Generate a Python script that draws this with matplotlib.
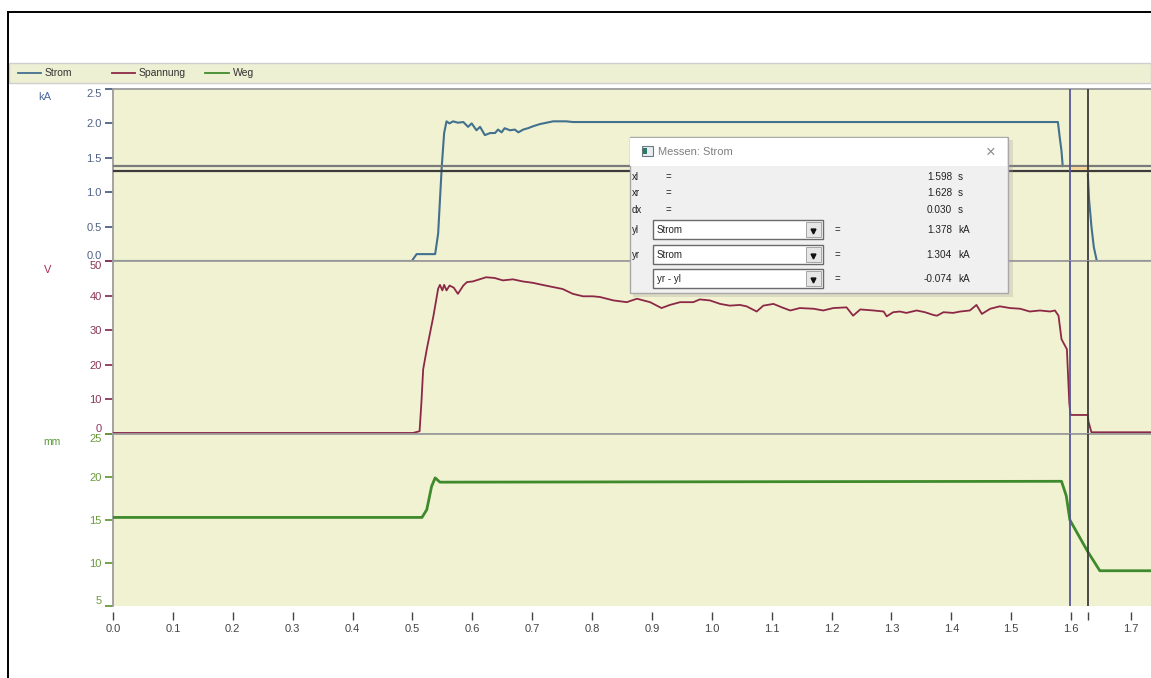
import matplotlib
matplotlib.use('Agg')
import matplotlib.pyplot as plt
from matplotlib.patches import Rectangle
import numpy as np

# ---------------- data ----------------
t_strom = [0.0, 0.499, 0.507, 0.538, 0.543, 0.549, 0.553, 0.557, 0.562, 0.568, 0.576, 0.585,
           0.593, 0.599, 0.607, 0.613, 0.621, 0.630, 0.638, 0.643, 0.649, 0.654, 0.663, 0.671,
           0.677, 0.685, 0.693, 0.702, 0.713, 0.724, 0.735, 0.757, 0.768, 1.578, 1.581, 1.584,
           1.586, np.nan, 1.628, 1.630, 1.634, 1.638, 1.643, 1.74]
strom = [0.0, 0.0, 0.10, 0.10, 0.40, 1.37, 1.86, 2.03, 2.00, 2.03, 2.01, 2.02,
         1.95, 2.00, 1.90, 1.95, 1.83, 1.86, 1.86, 1.91, 1.87, 1.93, 1.90, 1.91,
         1.87, 1.91, 1.93, 1.96, 1.99, 2.01, 2.03, 2.03, 2.02, 2.02, 1.80, 1.60,
         1.38, np.nan, 1.25, 0.90, 0.50, 0.20, 0.0, 0.0]

t_spannung = [0.0, 0.501, 0.512, 0.515, 0.518, 0.524, 0.535, 0.543, 0.546, 0.550, 0.553, 0.557,
              0.562, 0.569, 0.576, 0.585, 0.591, 0.601, 0.612, 0.623, 0.637, 0.651, 0.668, 0.684,
              0.701, 0.717, 0.734, 0.751, 0.768, 0.785, 0.801, 0.813, 0.836, 0.858, 0.875, 0.897,
              0.916, 0.930, 0.947, 0.969, 0.980, 0.997, 1.014, 1.030, 1.047, 1.058, 1.075, 1.086,
              1.103, 1.117, 1.131, 1.147, 1.170, 1.186, 1.203, 1.225, 1.236, 1.248, 1.270, 1.287,
              1.292, 1.303, 1.314, 1.325, 1.342, 1.356, 1.370, 1.376, 1.387, 1.403, 1.415, 1.431,
              1.442, 1.451, 1.465, 1.481, 1.498, 1.515, 1.531, 1.548, 1.565, 1.573, 1.579,
              1.584, 1.593, 1.597, 1.599, 1.628, 1.629, 1.634, 1.74]
spannung = [0.3, 0.3, 0.8, 9.0, 18.7, 24.5, 34.0, 42.0, 43.1, 41.5, 43.1, 41.5,
            42.9, 42.3, 40.5, 42.9, 43.9, 44.1, 44.7, 45.3, 45.1, 44.4, 44.7, 44.1,
            43.7, 43.1, 42.5, 41.9, 40.5, 39.8, 39.8, 39.6, 38.6, 38.1, 39.1, 38.1,
            36.4, 37.3, 38.1, 38.1, 38.9, 38.6, 37.6, 37.1, 37.3, 36.9, 35.4, 37.1,
            37.6, 36.6, 35.7, 36.4, 36.2, 35.7, 36.4, 36.6, 34.2, 36.0, 35.7, 35.4,
            34.0, 35.2, 35.4, 35.0, 35.7, 35.2, 34.4, 34.2, 35.2, 35.0, 35.4, 35.7,
            37.3, 34.7, 36.2, 36.9, 36.4, 36.2, 35.4, 35.7, 35.4, 35.7, 34.2,
            27.4, 24.5, 9.0, 5.5, 5.5, 3.6, 0.5, 0.5]

t_weg = [0.0, 0.516, 0.524, 0.532, 0.538, 0.546, 1.584, 1.592, 1.598, 1.628, 1.648, 1.74]
weg = [15.3, 15.3, 16.2, 18.9, 19.9, 19.4, 19.5, 17.8, 15.0, 11.3, 9.1, 9.1]

# cursor values (from the measurement box)
xl, xr = 1.598, 1.628
yl, yr = 1.378, 1.304

x_ticks = [0.0, 0.1, 0.2, 0.3, 0.4, 0.5, 0.6, 0.7, 0.8, 0.9, 1.0, 1.1, 1.2, 1.3, 1.4, 1.5, 1.6, 1.7]
x_ticklabels = ['0.0', '0.1', '0.2', '0.3', '0.4', '0.5', '0.6', '0.7', '0.8', '0.9',
                '1.0', '1.1', '1.2', '1.3', '1.4', '1.5', '1.6', '1.7']
strom_ticks = [0.0, 0.5, 1.0, 1.5, 2.0, 2.5]
strom_ticklabels = ['0.0', '0.5', '1.0', '1.5', '2.0', '2.5']
spannung_ticks = [0, 10, 20, 30, 40, 50]
spannung_ticklabels = ['0', '10', '20', '30', '40', '50']
weg_ticks = [5, 10, 15, 20, 25]
weg_ticklabels = ['5', '10', '15', '20', '25']

# ---------------- style ----------------
C_STROM = '#42708f'
C_SPANNUNG = '#8c2846'
C_WEG = '#3f8a2c'
C_BG = '#f1f2d2'
C_SEP = '#9c9c9c'
FONT = ['Liberation Sans', 'DejaVu Sans']
NARROW = ['Liberation Sans Narrow', 'Liberation Sans', 'DejaVu Sans']
plt.rcParams['font.family'] = FONT

W, H = 1151, 678
fig = plt.figure(figsize=(W / 100, H / 100), dpi=100)
fig.patch.set_facecolor('white')


def frac(x0, y0, x1, y1):
    return [x0 / W, 1 - y1 / H, (x1 - x0) / W, (y1 - y0) / H]


XMAX = (W - 113) / 598.8
panels = [(89, 261), (261, 434), (434, 606)]
axes = [fig.add_axes(frac(113, a, W, b)) for a, b in panels]
ax_i, ax_u, ax_s = axes

for ax in axes:
    ax.set_facecolor(C_BG)
    ax.set_xlim(0, XMAX)
    ax.spines['right'].set_visible(False)
    for s in ['left', 'top', 'bottom']:
        ax.spines[s].set_color(C_SEP)
        ax.spines[s].set_linewidth(1.3)
    ax.tick_params(axis='x', bottom=False, labelbottom=False)

ax_i.plot(t_strom, strom, color=C_STROM, lw=1.5, zorder=3)
ax_u.plot(t_spannung, spannung, color=C_SPANNUNG, lw=1.3, zorder=3)
ax_s.plot(t_weg, weg, color=C_WEG, lw=2.0, zorder=3)

ax_i.set_ylim(0, 2.5)
ax_u.set_ylim(0, 50)
ax_s.set_ylim(5, 25)

for ax, ticks, labels, col in [(ax_i, strom_ticks, strom_ticklabels, '#4f6284'),
                               (ax_u, spannung_ticks, spannung_ticklabels, '#8a3558'),
                               (ax_s, weg_ticks, weg_ticklabels, '#6a9a3c')]:
    ax.set_yticks(ticks)
    ax.set_yticklabels(labels)
    ax.tick_params(axis='y', direction='out', length=6, width=1.3, colors=col,
                   labelsize=8, pad=2)
    tl = ax.get_yticklabels()
    tl[0].set_va('bottom')
    tl[-1].set_va('top')

ax_s.spines['bottom'].set_visible(False)
ax_s.spines['bottom'].set_position(('outward', 4))
ax_s.set_xticks(x_ticks + [xr])
ax_s.set_xticklabels(x_ticklabels + [''])
ax_s.tick_params(axis='x', bottom=True, labelbottom=True, direction='out', length=6,
                 width=1.0, colors='#444444', labelsize=8, pad=3)

# cursors
ax_i.axhline(yl, color='#7a7a7a', lw=1.6, zorder=4)
ax_i.axhline(yr, color='#3c3c3c', lw=1.6, zorder=4)
ax_i.plot([xl, xr], [yl - 0.02, yl - 0.02], color='#f4d49a', lw=2.2, zorder=4)
for ax in axes:
    ax.axvline(xl, color='#56569a', lw=1.3, zorder=5)
    ax.axvline(xr, color='#3c3c3c', lw=1.3, zorder=5)

# unit labels
fig.text(45 / W, 1 - 97 / H, 'kA', color='#4a6a9c', fontsize=8, ha='center', va='center')
fig.text(48 / W, 1 - 270 / H, 'V', color='#a03052', fontsize=8, ha='center', va='center')
fig.text(52 / W, 1 - 442 / H, 'mm', color='#5a9a3a', fontsize=7.5, ha='center', va='center')

# ---------------- overlay (frame, legend strip, measurement box) ----------------
ov = fig.add_axes([0, 0, 1, 1], zorder=10)
ov.set_xlim(0, W)
ov.set_ylim(H, 0)
ov.axis('off')
ov.patch.set_alpha(0)

ov.plot([8, W], [12, 12], color='black', lw=1.4)
ov.plot([8, 8], [12, H], color='black', lw=1.4)

ov.add_patch(Rectangle((9, 63), W - 9, 20, facecolor='#eef0d3', edgecolor='#cfcfcf', lw=1))
for x0, x1, col, name, tx in [(18, 41, C_STROM, 'Strom', 45),
                              (112, 135, C_SPANNUNG, 'Spannung', 139),
                              (205, 229, C_WEG, 'Weg', 233)]:
    ov.plot([x0, x1], [73, 73], color=col, lw=1.3)
    ov.text(tx, 73, name, color='#333333', fontsize=7.5, va='center', ha='left')

# measurement dialog
ov.add_patch(Rectangle((633, 140), 380, 157, facecolor='#9a9a9a', alpha=0.25, lw=0))
ov.add_patch(Rectangle((630, 137), 378, 156, facecolor='#f0f0f0', edgecolor='#a8a8a8', lw=1))
ov.add_patch(Rectangle((630.5, 137.5), 377, 28, facecolor='white', lw=0))
ov.add_patch(Rectangle((642, 146), 11, 10, facecolor='#e8eef0', edgecolor='#6a7a80', lw=0.8))
ov.add_patch(Rectangle((643.5, 148), 4, 6, facecolor='#2a7a6a', lw=0))
ov.text(658, 152, 'Messen: Strom', color='#7f7f7f', fontsize=8, va='center', ha='left')
ov.text(991, 152, '\u00d7', color='#8a8a8a', fontsize=12, va='center', ha='center')

rows_y = [177, 193, 210, 230, 255, 279]
row_names = ['xl', 'xr', 'dx', 'yl', 'yr', '']
row_vals = ['1.598', '1.628', '0.030', '1.378', '1.304', '-0.074']
row_units = ['s', 's', 's', 'kA', 'kA', 'kA']
combo_txt = ['Strom', 'Strom', 'yr - yl']
for i, y in enumerate(rows_y):
    ov.text(632, y, row_names[i], color='#222222', fontsize=7, va='center', ha='left', family=NARROW)
    ov.text(668 if i < 3 else 837, y, '=', color='#222222', fontsize=7, va='center', ha='center')
    ov.text(952, y, row_vals[i], color='#222222', fontsize=7.2, va='center', ha='right')
    ov.text(958, y, row_units[i], color='#222222', fontsize=7.2, va='center', ha='left')
    if i >= 3:
        y0, y1 = y - 10, y + 9
        ov.add_patch(Rectangle((653, y0), 170, y1 - y0, facecolor='white', edgecolor='#6a6a6a', lw=1.0))
        ov.add_patch(Rectangle((806, y0 + 2), 15, y1 - y0 - 4, facecolor='#e6e6e6', edgecolor='#9a9a9a', lw=0.6))
        ov.plot([813.5], [y + 0.5], marker='v', color='#111111', markersize=3.5)
        ov.text(657, y, combo_txt[i - 3], color='#222222', fontsize=7, va='center', ha='left', family=NARROW)

fig.savefig('out.png', dpi=100, facecolor='white')
